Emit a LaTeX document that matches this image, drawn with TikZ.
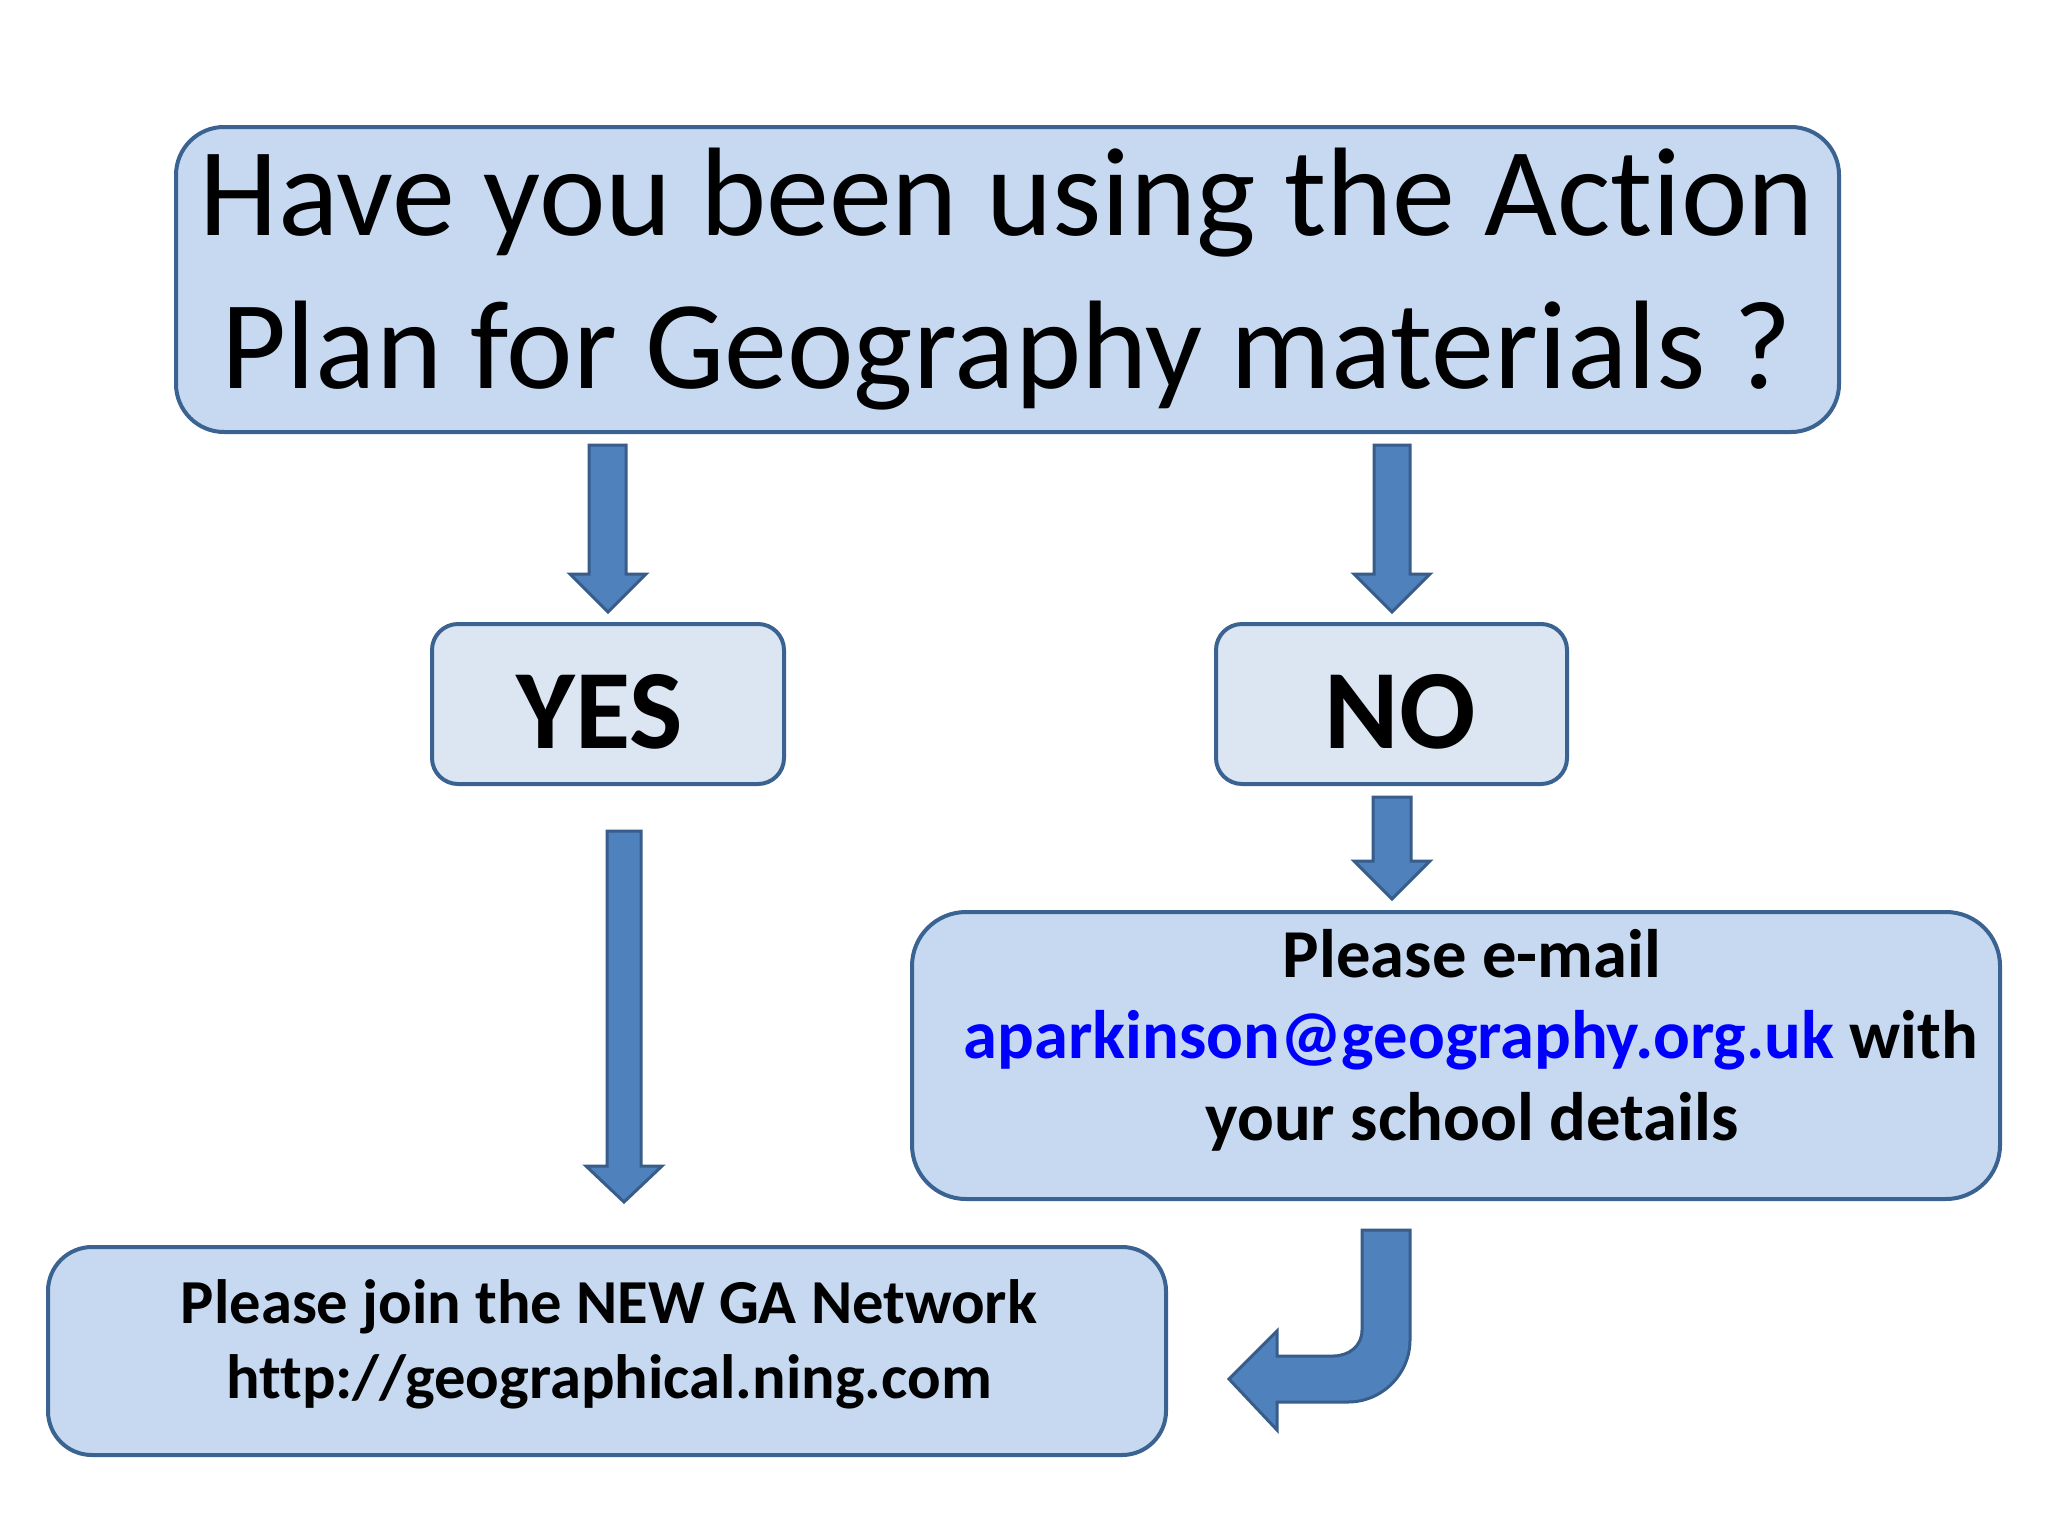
\documentclass[tikz,border=0pt]{standalone}
\usepackage{fontspec}
\setmainfont[Ligatures=NoCommon]{Carlito}
\begin{document}
\begin{tikzpicture}[x=0.5pt,y=-0.5pt]
\definecolor{boxfill}{HTML}{C6D9F1}
\definecolor{lightfill}{HTML}{DCE6F2}
\definecolor{edge}{HTML}{3B6391}
\definecolor{arrowfill}{HTML}{4F81BD}
\definecolor{arrowedge}{HTML}{385D8A}
\definecolor{mailblue}{HTML}{0000FF}
\tikzset{
  box/.style={draw=edge, line width=2pt, fill=boxfill, inner sep=0pt},
  lightbox/.style={box, fill=lightfill},
  txt/.style={inner sep=0pt, anchor=base},
  bigtxt/.style={txt, font=\fontsize{63pt}{75pt}\selectfont},
  yntxt/.style={txt, font=\fontsize{56.5pt}{66pt}\selectfont\bfseries},
  mailtxt/.style={txt, font=\fontsize{34.3pt}{41pt}\selectfont\bfseries},
  jointxt/.style={txt, font=\fontsize{31.3pt}{38pt}\selectfont\bfseries},
  blockarrow/.style={fill=arrowfill, draw=arrowedge, line width=1.5pt, line join=miter},
}
\useasboundingbox (0,0) rectangle (2048,1536);
\fill[white] (0,0) rectangle (2048,1536);

% boxes
\node[box, rounded corners=24pt, minimum width=831.5pt, minimum height=152.5pt] (question) at (1007.5,279.5) {};
\node[lightbox, rounded corners=13pt, minimum width=176pt, minimum height=80pt] (yes) at (608,704) {};
\node[lightbox, rounded corners=13pt, minimum width=175.5pt, minimum height=80pt] (no) at (1391.5,704) {};
\node[box, rounded corners=27pt, minimum width=544pt, minimum height=143.5pt] (mail) at (1456,1055.5) {};
\node[box, rounded corners=22pt, minimum width=559pt, minimum height=104pt] (join) at (607,1351) {};

% texts
\node[bigtxt] (q1) at (1007,235) {Have you been using the Action};
\node[bigtxt] (q2) at (1007,388) {Plan for Geography materials ?};
\node[yntxt] (yestxt) at (600,748) {YES};
\node[yntxt] (notxt) at (1400,748) {NO};
\node[mailtxt] (mail1) at (1472,977) {Please e-mail};
\node[mailtxt] (mail2) at (1471,1058) {\textcolor{mailblue}{aparkinson@geography.org.uk} with};
\node[mailtxt] (mail3) at (1472,1140) {your school details};
\node[jointxt] (join1) at (609,1323) {Please join the NEW GA Network};
\node[jointxt] (join2) at (609,1398) {http://geographical.ning.com};

% block arrows
\draw[blockarrow] (589,445) -- (626,445) -- (626,574) -- (646,574) -- (608,612) -- (570,574) -- (589,574) -- cycle;
\draw[blockarrow] (1374,445) -- (1410,445) -- (1410,574) -- (1430,574) -- (1392,612) -- (1354,574) -- (1374,574) -- cycle;
\draw[blockarrow] (1373,797) -- (1411,797) -- (1411,861) -- (1430,861) -- (1392,899) -- (1354,861) -- (1373,861) -- cycle;
\draw[blockarrow] (607,831) -- (641,831) -- (641,1166) -- (662,1166) -- (624,1202) -- (586,1166) -- (607,1166) -- cycle;
\draw[blockarrow] (1362,1230) -- (1410,1230) -- (1410,1340)
  .. controls (1410,1374) and (1382,1402) .. (1348,1402)
  -- (1277,1402) -- (1277,1430) -- (1229,1379) -- (1277,1331) -- (1277,1356) -- (1333,1356)
  .. controls (1349,1356) and (1362,1346) .. (1362,1330) -- cycle;
\end{tikzpicture}
\end{document}
